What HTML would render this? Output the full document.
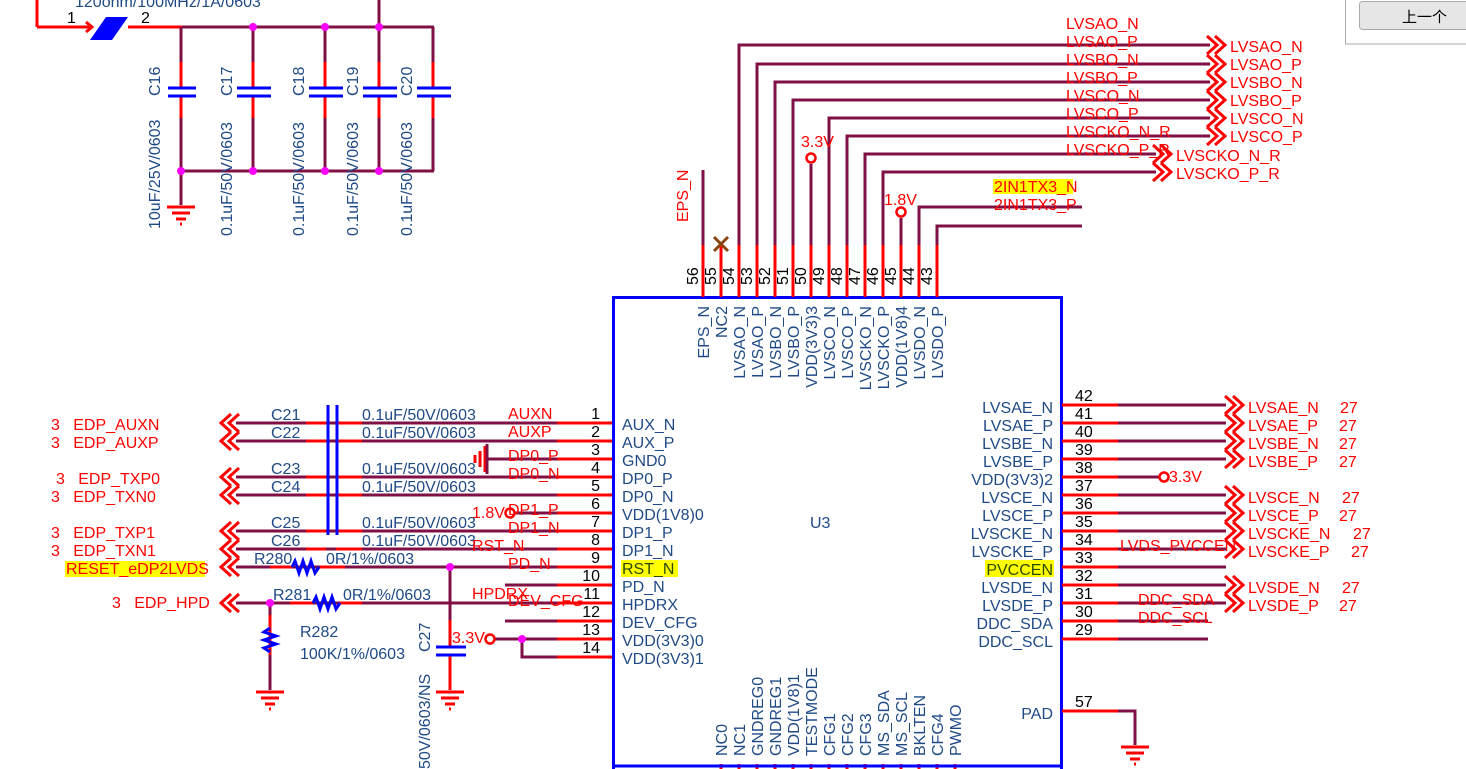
<!DOCTYPE html>
<html><head><meta charset="utf-8"><style>
html,body{margin:0;padding:0;background:#fff;width:1466px;height:769px;overflow:hidden}
svg{display:block}
text{font-family:"Liberation Sans","Noto Sans CJK SC",sans-serif;font-size:16px}
.b{fill:#1f4a86}.r{fill:#f00}.k{fill:#000}
.w{stroke:#7f0f45;stroke-width:3;fill:none}
.rd{stroke:#f00;stroke-width:3;fill:none}
.bl{stroke:#00f;stroke-width:3;fill:none}
.ch{stroke:#f00;stroke-width:3;fill:none}
</style></head><body>
<svg width="1466" height="769" viewBox="0 0 1466 769">
<defs>
<g id="chL"><polyline class="ch" points="231,-9 221,0 231,9"/><polyline class="ch" points="239,-9 229,0 239,9"/></g>
<g id="chR"><polyline class="ch" points="0,-9 10,0 0,9"/><polyline class="ch" points="8,-9 18,0 8,9"/></g>
<g id="gnd"><line x1="-14" y1="0" x2="14" y2="0" class="rd"/><line x1="-9" y1="6" x2="9" y2="6" class="rd"/><line x1="-5" y1="12" x2="5" y2="12" class="rd"/><line x1="-1" y1="17" x2="1" y2="17" class="rd"/></g>
</defs>
<rect x="1345.5" y="-1" width="125" height="45" fill="#fff" stroke="#aaa"/>
<rect x="1359.5" y="1.5" width="110" height="28" rx="3" fill="#e6e6e6" stroke="#aaa"/>
<text x="1402" y="22" class="k" style="font-size:15px">上一个</text>

<text x="75" y="7" class="b">120ohm/100MHz/1A/0603</text>
<text x="67" y="23" class="k">1</text><text x="141" y="23" class="k">2</text>
<line x1="37" y1="0" x2="37" y2="27" class="rd"/>
<line x1="37" y1="27" x2="90" y2="27" class="rd"/>
<polyline points="86,22 92,27 86,32" class="rd"/>
<polygon points="90,40 106,17 128,17 112,40" fill="#00f"/>
<line x1="128" y1="27" x2="182" y2="27" class="rd"/>
<line x1="182" y1="27" x2="434" y2="27" class="w"/>
<line x1="379" y1="0" x2="379" y2="27" class="w"/>
<line x1="181" y1="171" x2="434" y2="171" class="w"/>
<line x1="181" y1="27" x2="181" y2="205" class="w"/><line x1="253" y1="27" x2="253" y2="171" class="w"/><line x1="325" y1="27" x2="325" y2="171" class="w"/><line x1="379" y1="27" x2="379" y2="171" class="w"/><line x1="433" y1="27" x2="433" y2="171" class="w"/>
<line x1="181" y1="62" x2="181" y2="118" class="rd"/><line x1="253" y1="62" x2="253" y2="118" class="rd"/><line x1="325" y1="62" x2="325" y2="118" class="rd"/><line x1="379" y1="62" x2="379" y2="118" class="rd"/><line x1="433" y1="62" x2="433" y2="118" class="rd"/>
<g fill="#fff">
<rect x="166" y="87" width="32" height="8"/><rect x="236" y="87" width="34" height="8"/><rect x="308" y="87" width="34" height="8"/><rect x="362" y="87" width="34" height="8"/><rect x="416" y="87" width="34" height="8"/>
</g>
<line x1="168" y1="88" x2="196" y2="88" class="bl"/><line x1="168" y1="96" x2="196" y2="96" class="bl"/>
<line x1="237" y1="88" x2="271" y2="88" class="bl"/><line x1="237" y1="96" x2="271" y2="96" class="bl"/>
<line x1="309" y1="88" x2="343" y2="88" class="bl"/><line x1="309" y1="96" x2="343" y2="96" class="bl"/>
<line x1="363" y1="88" x2="397" y2="88" class="bl"/><line x1="363" y1="96" x2="397" y2="96" class="bl"/>
<line x1="417" y1="88" x2="451" y2="88" class="bl"/><line x1="417" y1="96" x2="451" y2="96" class="bl"/>
<g fill="#f0f">
<circle cx="253" cy="27" r="4"/><circle cx="325" cy="27" r="4"/><circle cx="379" cy="27" r="4"/>
<circle cx="181" cy="171" r="4"/><circle cx="253" cy="171" r="4"/><circle cx="325" cy="171" r="4"/><circle cx="379" cy="171" r="4"/>
</g>
<use href="#gnd" x="181" y="207"/>
<g class="b">
<text transform="translate(160,96) rotate(-90)">C16</text>
<text transform="translate(232,96) rotate(-90)">C17</text>
<text transform="translate(304,96) rotate(-90)">C18</text>
<text transform="translate(358,96) rotate(-90)">C19</text>
<text transform="translate(412,96) rotate(-90)">C20</text>
<text transform="translate(160,229) rotate(-90)">10uF/25V/0603</text>
<text transform="translate(232,236) rotate(-90)">0.1uF/50V/0603</text>
<text transform="translate(304,236) rotate(-90)">0.1uF/50V/0603</text>
<text transform="translate(358,236) rotate(-90)">0.1uF/50V/0603</text>
<text transform="translate(412,236) rotate(-90)">0.1uF/50V/0603</text>
</g>

<rect x="613.5" y="297.5" width="448" height="480" fill="none" stroke="#00f" stroke-width="3"/>
<text x="810" y="528" class="b">U3</text>

<g class="w">
<polyline points="739,250 739,45 1210,45"/>
<polyline points="757,250 757,64 1210,64"/>
<polyline points="775,250 775,82 1210,82"/>
<polyline points="793,250 793,100 1210,100"/>
<polyline points="829,250 829,118 1210,118"/>
<polyline points="847,250 847,136 1210,136"/>
<polyline points="865,250 865,154 1156,154"/>
<polyline points="883,250 883,172 1156,172"/>
<polyline points="919,250 919,207 1082,207"/>
<polyline points="937,250 937,226 1082,226"/>
<line x1="703" y1="170" x2="703" y2="250"/>
<line x1="811" y1="164" x2="811" y2="250"/>
<line x1="901" y1="218" x2="901" y2="250"/>
</g>
<g class="rd">
<line x1="703" y1="245" x2="703" y2="297"/><line x1="721" y1="245" x2="721" y2="297"/><line x1="739" y1="245" x2="739" y2="297"/><line x1="757" y1="245" x2="757" y2="297"/><line x1="775" y1="245" x2="775" y2="297"/><line x1="793" y1="245" x2="793" y2="297"/><line x1="811" y1="245" x2="811" y2="297"/><line x1="829" y1="245" x2="829" y2="297"/><line x1="847" y1="245" x2="847" y2="297"/><line x1="865" y1="245" x2="865" y2="297"/><line x1="883" y1="245" x2="883" y2="297"/><line x1="901" y1="245" x2="901" y2="297"/><line x1="919" y1="245" x2="919" y2="297"/><line x1="937" y1="245" x2="937" y2="297"/>
<circle cx="811" cy="158" r="4.5" stroke-width="2.5" fill="#fff"/>
<circle cx="901" cy="212" r="4.5" stroke-width="2.5" fill="#fff"/>
</g>
<g stroke="#8b4513" stroke-width="3"><line x1="714" y1="237" x2="728" y2="251"/><line x1="728" y1="237" x2="714" y2="251"/></g>
<text x="801" y="147" class="r">3.3V</text>
<text x="884" y="205" class="r">1.8V</text>
<text transform="translate(688,222) rotate(-90)" class="r">EPS_N</text>
<rect x="993" y="179" width="80" height="15" fill="#ff0"/>
<text x="994" y="192" class="r">2IN1TX3_N</text>
<text x="994" y="210" class="r">2IN1TX3_P</text>
<g class="k">
<text transform="translate(698,285) rotate(-90)">56</text><text transform="translate(716,285) rotate(-90)">55</text><text transform="translate(734,285) rotate(-90)">54</text><text transform="translate(752,285) rotate(-90)">53</text><text transform="translate(770,285) rotate(-90)">52</text><text transform="translate(788,285) rotate(-90)">51</text><text transform="translate(806,285) rotate(-90)">50</text><text transform="translate(824,285) rotate(-90)">49</text><text transform="translate(842,285) rotate(-90)">48</text><text transform="translate(860,285) rotate(-90)">47</text><text transform="translate(878,285) rotate(-90)">46</text><text transform="translate(896,285) rotate(-90)">45</text><text transform="translate(914,285) rotate(-90)">44</text><text transform="translate(932,285) rotate(-90)">43</text>
</g>
<g class="b" text-anchor="end">
<text transform="translate(709,306) rotate(-90)">EPS_N</text><text transform="translate(727,306) rotate(-90)">NC2</text><text transform="translate(745,306) rotate(-90)">LVSAO_N</text><text transform="translate(763,306) rotate(-90)">LVSAO_P</text><text transform="translate(781,306) rotate(-90)">LVSBO_N</text><text transform="translate(799,306) rotate(-90)">LVSBO_P</text><text transform="translate(817,306) rotate(-90)">VDD(3V3)3</text><text transform="translate(835,306) rotate(-90)">LVSCO_N</text><text transform="translate(853,306) rotate(-90)">LVSCO_P</text><text transform="translate(871,306) rotate(-90)">LVSCKO_N</text><text transform="translate(889,306) rotate(-90)">LVSCKO_P</text><text transform="translate(907,306) rotate(-90)">VDD(1V8)4</text><text transform="translate(925,306) rotate(-90)">LVSDO_N</text><text transform="translate(943,306) rotate(-90)">LVSDO_P</text>
</g>
<g class="r">
<text x="1066" y="29">LVSAO_N</text><text x="1066" y="47">LVSAO_P</text><text x="1066" y="65">LVSBO_N</text><text x="1066" y="83">LVSBO_P</text><text x="1066" y="101">LVSCO_N</text><text x="1066" y="119">LVSCO_P</text><text x="1066" y="137">LVSCKO_N_R</text><text x="1066" y="155">LVSCKO_P_R</text>
<text x="1230" y="52">LVSAO_N</text><text x="1230" y="70">LVSAO_P</text><text x="1230" y="88">LVSBO_N</text><text x="1230" y="106">LVSBO_P</text><text x="1230" y="124">LVSCO_N</text><text x="1230" y="142">LVSCO_P</text>
<text x="1176" y="161">LVSCKO_N_R</text><text x="1176" y="179">LVSCKO_P_R</text>
</g>
<use href="#chR" x="1207" y="45"/><use href="#chR" x="1207" y="64"/><use href="#chR" x="1207" y="82"/><use href="#chR" x="1207" y="100"/><use href="#chR" x="1207" y="118"/><use href="#chR" x="1207" y="136"/>
<use href="#chR" x="1153" y="154"/><use href="#chR" x="1153" y="172"/>

<g class="w">
<line x1="236" y1="423" x2="612" y2="423"/><line x1="236" y1="441" x2="612" y2="441"/>
<line x1="487" y1="459" x2="612" y2="459"/>
<line x1="236" y1="477" x2="612" y2="477"/><line x1="236" y1="495" x2="612" y2="495"/>
<line x1="515" y1="513" x2="612" y2="513"/>
<line x1="236" y1="531" x2="612" y2="531"/><line x1="236" y1="549" x2="612" y2="549"/>
<line x1="236" y1="567" x2="612" y2="567"/>
<line x1="505" y1="585" x2="612" y2="585"/>
<line x1="236" y1="603" x2="612" y2="603"/>
<line x1="505" y1="621" x2="612" y2="621"/>
<line x1="495" y1="639" x2="612" y2="639"/>
<polyline points="522,639 522,657 612,657"/>
<line x1="450" y1="567" x2="450" y2="640"/>
<line x1="270" y1="603" x2="270" y2="690"/>
</g>
<g class="rd">
<line x1="557" y1="423" x2="612" y2="423"/><line x1="557" y1="441" x2="612" y2="441"/><line x1="557" y1="459" x2="612" y2="459"/><line x1="557" y1="477" x2="612" y2="477"/><line x1="557" y1="495" x2="612" y2="495"/><line x1="557" y1="513" x2="612" y2="513"/><line x1="557" y1="531" x2="612" y2="531"/><line x1="557" y1="549" x2="612" y2="549"/><line x1="557" y1="567" x2="612" y2="567"/><line x1="557" y1="585" x2="612" y2="585"/><line x1="557" y1="603" x2="612" y2="603"/><line x1="557" y1="621" x2="612" y2="621"/><line x1="557" y1="639" x2="612" y2="639"/><line x1="557" y1="657" x2="612" y2="657"/>
<line x1="306" y1="423" x2="326" y2="423"/><line x1="336" y1="423" x2="362" y2="423"/><line x1="306" y1="441" x2="326" y2="441"/><line x1="336" y1="441" x2="362" y2="441"/>
<line x1="306" y1="477" x2="326" y2="477"/><line x1="336" y1="477" x2="362" y2="477"/><line x1="306" y1="495" x2="326" y2="495"/><line x1="336" y1="495" x2="362" y2="495"/>
<line x1="306" y1="531" x2="326" y2="531"/><line x1="336" y1="531" x2="362" y2="531"/><line x1="306" y1="549" x2="326" y2="549"/><line x1="336" y1="549" x2="362" y2="549"/>
<line x1="270" y1="567" x2="292" y2="567"/><line x1="320" y1="567" x2="345" y2="567"/>
<line x1="290" y1="603" x2="313" y2="603"/><line x1="340" y1="603" x2="362" y2="603"/>
<line x1="450" y1="620" x2="450" y2="690"/>
<line x1="270" y1="615" x2="270" y2="655"/>
<circle cx="510" cy="513" r="4.5" stroke-width="2.5" fill="#fff"/>
<circle cx="490" cy="639" r="4.5" stroke-width="2.5" fill="#fff"/>
</g>
<g class="bl">
<line x1="328" y1="405" x2="328" y2="535"/><line x1="337" y1="405" x2="337" y2="535"/>
<polyline points="292,567 295,561 299,573 303,561 307,573 311,561 315,573 319,567"/>
<polyline points="313,603 316,597 320,609 324,597 328,609 332,597 336,609 340,603"/>
<polyline points="270,628 264,632 276,636 264,640 276,644 264,648 270,652"/>
</g>
<rect x="436" y="648" width="30" height="6" fill="#fff"/>
<line x1="436" y1="647" x2="466" y2="647" class="bl"/><line x1="436" y1="655" x2="466" y2="655" class="bl"/>
<g class="rd"><line x1="485" y1="446" x2="485" y2="472"/><line x1="480" y1="451" x2="480" y2="467"/><line x1="475" y1="455" x2="475" y2="463"/></g>
<line x1="487" y1="444" x2="487" y2="474" stroke="#7f0f45" stroke-width="3"/>
<g fill="#f0f"><circle cx="450" cy="567" r="4"/><circle cx="270" cy="603" r="4"/><circle cx="522" cy="639" r="4"/></g>
<use href="#gnd" x="270" y="692"/><use href="#gnd" x="450" y="692"/>
<use href="#chL" x="0" y="423"/><use href="#chL" x="0" y="441"/><use href="#chL" x="0" y="477"/><use href="#chL" x="0" y="495"/><use href="#chL" x="0" y="531"/><use href="#chL" x="0" y="549"/><use href="#chL" x="0" y="567"/><use href="#chL" x="0" y="603"/>
<g class="r">
<text x="51" y="430">3&#160;&#160;&#160;EDP_AUXN</text><text x="51" y="448">3&#160;&#160;&#160;EDP_AUXP</text>
<text x="56" y="484">3&#160;&#160;&#160;EDP_TXP0</text><text x="51" y="502">3&#160;&#160;&#160;EDP_TXN0</text>
<text x="51" y="538">3&#160;&#160;&#160;EDP_TXP1</text><text x="51" y="556">3&#160;&#160;&#160;EDP_TXN1</text>
<text x="112" y="608">3&#160;&#160;&#160;EDP_HPD</text>
</g>
<rect x="65" y="561" width="140" height="16" fill="#ff0"/>
<text x="66" y="574" class="r">RESET_eDP2LVDS</text>
<g class="b">
<text x="271" y="420">C21</text><text x="271" y="438">C22</text><text x="271" y="474">C23</text><text x="271" y="492">C24</text><text x="271" y="528">C25</text><text x="271" y="546">C26</text>
<text x="362" y="420">0.1uF/50V/0603</text><text x="362" y="438">0.1uF/50V/0603</text><text x="362" y="474">0.1uF/50V/0603</text><text x="362" y="492">0.1uF/50V/0603</text><text x="362" y="528">0.1uF/50V/0603</text><text x="362" y="546">0.1uF/50V/0603</text>
<text x="254" y="564">R280</text><text x="326" y="564">0R/1%/0603</text>
<text x="273" y="600">R281</text><text x="343" y="600">0R/1%/0603</text>
<text x="300" y="637">R282</text><text x="300" y="659">100K/1%/0603</text>
<text transform="translate(430,652) rotate(-90)">C27</text>
<text transform="translate(430,769) rotate(-90)">50V/0603/NS</text>
</g>
<g class="r">
<text x="508" y="419">AUXN</text><text x="508" y="437">AUXP</text><text x="508" y="461">DP0_P</text><text x="508" y="479">DP0_N</text><text x="508" y="515">DP1_P</text><text x="508" y="533">DP1_N</text><text x="472" y="551">RST_N</text><text x="508" y="569">PD_N</text><text x="472" y="599">HPDRX</text><text x="508" y="606">DEV_CFG</text>
<text x="472" y="518">1.8V</text><text x="452" y="643">3.3V</text>
</g>
<g class="k" text-anchor="end">
<text x="600" y="419">1</text><text x="600" y="437">2</text><text x="600" y="455">3</text><text x="600" y="473">4</text><text x="600" y="491">5</text><text x="600" y="509">6</text><text x="600" y="527">7</text><text x="600" y="545">8</text><text x="600" y="563">9</text><text x="600" y="581">10</text><text x="600" y="599">11</text><text x="600" y="617">12</text><text x="600" y="635">13</text><text x="600" y="653">14</text>
</g>
<rect x="621" y="560" width="57" height="17" fill="#ff0"/>
<g class="b">
<text x="622" y="430">AUX_N</text><text x="622" y="448">AUX_P</text><text x="622" y="466">GND0</text><text x="622" y="484">DP0_P</text><text x="622" y="502">DP0_N</text><text x="622" y="520">VDD(1V8)0</text><text x="622" y="538">DP1_P</text><text x="622" y="556">DP1_N</text><text x="622" y="574" fill="#2a4a00">RST_N</text><text x="622" y="592">PD_N</text><text x="622" y="610">HPDRX</text><text x="622" y="628">DEV_CFG</text><text x="622" y="646">VDD(3V3)0</text><text x="622" y="664">VDD(3V3)1</text>
</g>

<g class="w">
<line x1="1062" y1="405" x2="1226" y2="405"/><line x1="1062" y1="423" x2="1226" y2="423"/><line x1="1062" y1="441" x2="1226" y2="441"/><line x1="1062" y1="459" x2="1226" y2="459"/>
<line x1="1062" y1="477" x2="1160" y2="477"/>
<line x1="1062" y1="495" x2="1226" y2="495"/><line x1="1062" y1="513" x2="1226" y2="513"/><line x1="1062" y1="531" x2="1226" y2="531"/><line x1="1062" y1="549" x2="1226" y2="549"/><line x1="1062" y1="567" x2="1226" y2="567"/><line x1="1062" y1="585" x2="1226" y2="585"/><line x1="1062" y1="603" x2="1226" y2="603"/>
<line x1="1062" y1="621" x2="1208" y2="621"/><line x1="1062" y1="639" x2="1208" y2="639"/>
<polyline points="1062,711 1135,711 1135,745"/>
</g>
<g class="rd">
<line x1="1062" y1="405" x2="1118" y2="405"/><line x1="1062" y1="423" x2="1118" y2="423"/><line x1="1062" y1="441" x2="1118" y2="441"/><line x1="1062" y1="459" x2="1118" y2="459"/><line x1="1062" y1="477" x2="1118" y2="477"/><line x1="1062" y1="495" x2="1118" y2="495"/><line x1="1062" y1="513" x2="1118" y2="513"/><line x1="1062" y1="531" x2="1118" y2="531"/><line x1="1062" y1="549" x2="1118" y2="549"/><line x1="1062" y1="567" x2="1118" y2="567"/><line x1="1062" y1="585" x2="1118" y2="585"/><line x1="1062" y1="603" x2="1118" y2="603"/><line x1="1062" y1="621" x2="1118" y2="621"/><line x1="1062" y1="639" x2="1118" y2="639"/>
<line x1="1062" y1="711" x2="1118" y2="711"/>
<circle cx="1164" cy="477" r="4.5" stroke-width="2.5" fill="#fff"/>
</g>
<use href="#gnd" x="1135" y="747"/>
<use href="#chR" x="1225" y="405"/><use href="#chR" x="1225" y="423"/><use href="#chR" x="1225" y="441"/><use href="#chR" x="1225" y="459"/><use href="#chR" x="1225" y="495"/><use href="#chR" x="1225" y="513"/><use href="#chR" x="1225" y="531"/><use href="#chR" x="1225" y="549"/><use href="#chR" x="1225" y="585"/><use href="#chR" x="1225" y="603"/>
<g class="k">
<text x="1075" y="401">42</text><text x="1075" y="419">41</text><text x="1075" y="437">40</text><text x="1075" y="455">39</text><text x="1075" y="473">38</text><text x="1075" y="491">37</text><text x="1075" y="509">36</text><text x="1075" y="527">35</text><text x="1075" y="545">34</text><text x="1075" y="563">33</text><text x="1075" y="581">32</text><text x="1075" y="599">31</text><text x="1075" y="617">30</text><text x="1075" y="635">29</text><text x="1075" y="707">57</text>
</g>
<rect x="985" y="560" width="69" height="17" fill="#ff0"/>
<g class="b" text-anchor="end">
<text x="1053" y="413">LVSAE_N</text><text x="1053" y="431">LVSAE_P</text><text x="1053" y="449">LVSBE_N</text><text x="1053" y="467">LVSBE_P</text><text x="1053" y="485">VDD(3V3)2</text><text x="1053" y="503">LVSCE_N</text><text x="1053" y="521">LVSCE_P</text><text x="1053" y="539">LVSCKE_N</text><text x="1053" y="557">LVSCKE_P</text><text x="1053" y="575" fill="#2a4a00">PVCCEN</text><text x="1053" y="593">LVSDE_N</text><text x="1053" y="611">LVSDE_P</text><text x="1053" y="629">DDC_SDA</text><text x="1053" y="647">DDC_SCL</text>
<text x="1053" y="719">PAD</text>
</g>
<g class="r">
<text x="1169" y="482">3.3V</text>
<text x="1120" y="551">LVDS_PVCCEN</text>
<text x="1138" y="605">DDC_SDA</text><text x="1138" y="623">DDC_SCL</text>
<text x="1248" y="413">LVSAE_N</text><text x="1340" y="413">27</text>
<text x="1248" y="431">LVSAE_P</text><text x="1339" y="431">27</text>
<text x="1248" y="449">LVSBE_N</text><text x="1339" y="449">27</text>
<text x="1248" y="467">LVSBE_P</text><text x="1339" y="467">27</text>
<text x="1248" y="503">LVSCE_N</text><text x="1342" y="503">27</text>
<text x="1248" y="521">LVSCE_P</text><text x="1339" y="521">27</text>
<text x="1248" y="539">LVSCKE_N</text><text x="1353" y="539">27</text>
<text x="1248" y="557">LVSCKE_P</text><text x="1351" y="557">27</text>
<text x="1248" y="593">LVSDE_N</text><text x="1342" y="593">27</text>
<text x="1248" y="611">LVSDE_P</text><text x="1339" y="611">27</text>
</g>

<g class="rd">
<line x1="721" y1="764" x2="721" y2="769"/><line x1="739" y1="764" x2="739" y2="769"/><line x1="757" y1="764" x2="757" y2="769"/><line x1="775" y1="764" x2="775" y2="769"/><line x1="793" y1="764" x2="793" y2="769"/><line x1="811" y1="764" x2="811" y2="769"/><line x1="829" y1="764" x2="829" y2="769"/><line x1="847" y1="764" x2="847" y2="769"/><line x1="865" y1="764" x2="865" y2="769"/><line x1="883" y1="764" x2="883" y2="769"/><line x1="901" y1="764" x2="901" y2="769"/><line x1="919" y1="764" x2="919" y2="769"/><line x1="937" y1="764" x2="937" y2="769"/><line x1="955" y1="764" x2="955" y2="769"/>
</g>
<line x1="612" y1="766" x2="1062" y2="766" stroke="#00f" stroke-width="3"/>
<g class="b">
<text transform="translate(727,756) rotate(-90)">NC0</text><text transform="translate(745,756) rotate(-90)">NC1</text><text transform="translate(763,756) rotate(-90)">GNDREG0</text><text transform="translate(781,756) rotate(-90)">GNDREG1</text><text transform="translate(799,756) rotate(-90)">VDD(1V8)1</text><text transform="translate(817,756) rotate(-90)">TESTMODE</text><text transform="translate(835,756) rotate(-90)">CFG1</text><text transform="translate(853,756) rotate(-90)">CFG2</text><text transform="translate(871,756) rotate(-90)">CFG3</text><text transform="translate(889,756) rotate(-90)">MS_SDA</text><text transform="translate(907,756) rotate(-90)">MS_SCL</text><text transform="translate(925,756) rotate(-90)">BKLTEN</text><text transform="translate(943,756) rotate(-90)">CFG4</text><text transform="translate(961,756) rotate(-90)">PWMO</text>
</g>
</svg>
</body></html>
